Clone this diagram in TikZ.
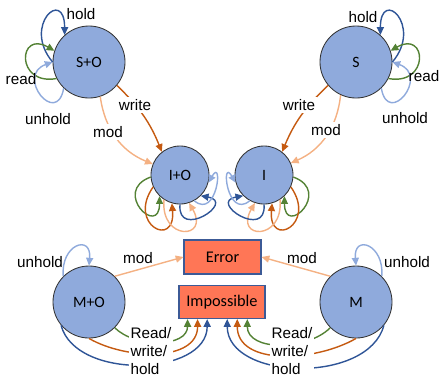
\documentclass[tikz,border=0pt]{standalone}
\usepackage{fontspec}
\setmainfont{Liberation Sans}
\newfontfamily\calibri{Carlito}
\usetikzlibrary{arrows.meta,calc}

\definecolor{holdc}{RGB}{47,85,151}
\definecolor{readc}{RGB}{84,130,53}
\definecolor{unholdc}{RGB}{143,170,220}
\definecolor{writec}{RGB}{197,90,17}
\definecolor{modc}{RGB}{244,177,131}
\definecolor{estadoc}{RGB}{143,170,220}
\definecolor{cajac}{RGB}{255,118,86}
\definecolor{cajab}{RGB}{60,90,150}

\tikzset{
  >={Triangle[length=5.5pt,width=5pt]},
  estado/.style={circle, draw=black!80, line width=0.6pt, fill=estadoc, minimum size=1.8cm, inner sep=0pt, font=\calibri\fontsize{11.2}{13}\selectfont},
  caja/.style={rectangle, draw=cajab, fill=cajac, line width=0.8pt, font=\calibri\fontsize{11.6}{14}\selectfont},
  etiq/.style={font=\fontsize{10.85}{13}\selectfont, inner sep=1.5pt},
  flecha/.style={->, line width=1pt},
}

\begin{document}
\begin{tikzpicture}[x=0.025cm, y=-0.025cm]
    \useasboundingbox (0,0) rectangle (440,378);

    % Estados
    \node[estado] (SO) at (89,62) {S+O};
    \node[estado] (S) at (356,62) {S};
    \node[estado, minimum size=1.45cm] (IO) at (180,175) {I+O};
    \node[estado, minimum size=1.45cm] (I) at (264,175) {I};
    \node[estado] (MO) at (89,302) {M+O};
    \node[estado] (M) at (356,302) {M};
    \node[caja, minimum width=1.925cm, minimum height=0.85cm] (err) at (222.5,257) {Error};
    \node[caja, minimum width=2.15cm, minimum height=0.825cm] (imp) at (222,302) {Impossible};

    % Bucles de S+O
    \draw[flecha, holdc] (SO.180) to[out=130, in=90, distance=1.2cm] (SO.132);
    \draw[flecha, readc] (SO.207) to[out=190, in=150, distance=1.05cm] (SO.162);
    \draw[flecha, unholdc] (SO.226) to[out=260, in=200, distance=1cm] (SO.180);

    % Bucles de S
    \draw[flecha, holdc] (S.0) to[out=50, in=90, distance=1.2cm] (S.48);
    \draw[flecha, readc] (S.-27) to[out=-10, in=30, distance=1.05cm] (S.18);
    \draw[flecha, unholdc] (S.-46) to[out=-80, in=-20, distance=1cm] (S.0);

    % De S+O y S hacia I+O e I
    \draw[flecha, writec] (SO.-40) to[bend left=12] (IO.128);
    \draw[flecha, modc] (SO.-72) to[bend right=30] (IO.158);
    \draw[flecha, writec] (S.220) to[bend right=12] (I.52);
    \draw[flecha, modc] (S.245) to[bend left=30] (I.24);

    % Bucles de I+O
    \draw[flecha, readc] (IO.184) to[out=200, in=270, distance=1.05cm] (IO.226);
    \draw[flecha, writec] (IO.204) to[out=235, in=275, distance=1.15cm] (IO.254);
    \draw[flecha, modc] (IO.237) to[out=265, in=300, distance=1.05cm] (IO.288);
    \draw[flecha, holdc] (IO.270) to[out=265, in=-10, distance=0.9cm] (IO.315);
    \draw[flecha, unholdc] (IO.299) to[out=-40, in=60, distance=0.75cm] (IO.345);

    % Bucles de I
    \draw[flecha, readc] (I.-4) to[out=-20, in=270, distance=1.05cm] (I.-46);
    \draw[flecha, writec] (I.-24) to[out=-55, in=265, distance=1.15cm] (I.-74);
    \draw[flecha, modc] (I.-57) to[out=-85, in=240, distance=1.05cm] (I.-108);
    \draw[flecha, holdc] (I.270) to[out=-85, in=190, distance=0.9cm] (I.225);
    \draw[flecha, unholdc] (I.241) to[out=220, in=120, distance=0.75cm] (I.195);

    % Bucles de M+O y M
    \draw[flecha, unholdc] (MO.135) to[out=95, in=85, distance=0.8cm] (MO.90);
    \draw[flecha, unholdc] (M.45) to[out=85, in=95, distance=0.8cm] (M.90);

    % Hacia Error
    \draw[flecha, modc] (MO.45) -- (err.west);
    \draw[flecha, modc] (M.135) -- (err.east);

    % Hacia Impossible
    \draw[flecha, readc] (MO.-45) to[out=-45, in=270] ($(imp.south west)!0.105!(imp.south east)$);
    \draw[flecha, writec] (MO.270) to[out=-30, in=270] ($(imp.south west)!0.22!(imp.south east)$);
    \draw[flecha, holdc] (MO.220) to[out=-75, in=270] ($(imp.south west)!0.33!(imp.south east)$);
    \draw[flecha, readc] (M.225) to[out=225, in=270] ($(imp.south west)!0.79!(imp.south east)$);
    \draw[flecha, writec] (M.270) to[out=210, in=270] ($(imp.south west)!0.675!(imp.south east)$);
    \draw[flecha, holdc] (M.320) to[out=255, in=270] ($(imp.south west)!0.56!(imp.south east)$);

    % Etiquetas
    \node[etiq] (lhold1) at (81,14) {hold};
    \node[etiq] (lread1) at (21,79) {read};
    \node[etiq] (lunhold1) at (48,119) {unhold};
    \node[etiq, fill=white] (lwrite1) at (135,105) {write};
    \node[etiq, fill=white] (lmod1) at (108,132) {mod};
    \node[etiq] (lhold2) at (363,17) {hold};
    \node[etiq] (lread2) at (424,76) {read};
    \node[etiq] (lunhold2) at (405,118) {unhold};
    \node[etiq, fill=white] (lwrite2) at (299,105) {write};
    \node[etiq, fill=white] (lmod2) at (326,130) {mod};
    \node[etiq] (lunhold3) at (40,262) {unhold};
    \node[etiq] (lunhold4) at (407,262) {unhold};
    \node[etiq] (lmod3) at (138,258) {mod};
    \node[etiq] (lmod4) at (302,258) {mod};
    \node[etiq, fill=white, align=left] (lrwh1) at (151,351) {Read/\\write/\\hold};
    \node[etiq, fill=white, align=left] (lrwh2) at (292,351) {Read/\\write/\\hold};
\end{tikzpicture}
\end{document}
